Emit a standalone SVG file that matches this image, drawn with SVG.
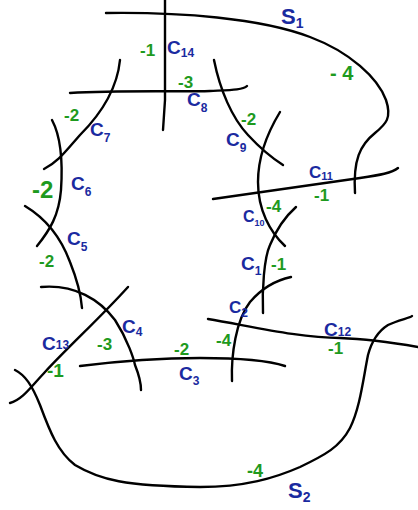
<svg xmlns="http://www.w3.org/2000/svg" width="418" height="510" viewBox="0 0 418 510">
<style>
.c{fill:none;stroke:#000;stroke-width:2.4;stroke-linecap:round;stroke-linejoin:round}
.b{fill:#1a2aa0;font-family:"Liberation Sans",sans-serif;font-size:19px;font-weight:bold}
.g{fill:#1e9a1e;font-family:"Liberation Sans",sans-serif;font-size:17px;font-weight:bold}
.s{font-size:12px}
</style>
<rect width="418" height="510" fill="#fff"/>
<g id="curves">
<path id="S1" class="c" d="M106,13 C180,12 260,18 310,37 C350,52 378,78 386,100 C392,118 386,124 375,133 C360,145 353,160 355,193"/>
<path id="C14" class="c" d="M165,0 L165,100 L163,130"/>
<path id="C8" class="c" d="M70,93 C120,90 180,92 210,91 C230,90 243,90 247,86"/>
<path id="C7" class="c" d="M120,60 C117,90 100,115 80,135 C65,152 58,162 44,169"/>
<path id="C6" class="c" d="M52,120 C60,135 63,160 61,190 C59,215 50,230 37,246"/>
<path id="C5" class="c" d="M25,206 C45,218 60,235 70,262 C78,282 81,295 82,308"/>
<path id="C4" class="c" d="M41,287 C75,284 100,300 115,320 C128,340 134,360 135,365 C139,375 141,385 141,390"/>
<path id="C13" class="c" d="M128,287 C100,318 70,345 45,372 C30,388 22,400 10,403"/>
<path id="S2" class="c" d="M15,370 C25,375 32,385 40,405 C50,432 58,452 75,465 C100,480 125,486 200,487 C245,487 275,478 300,467 C325,455 340,447 350,428 C360,408 363,380 368,355 C372,340 380,330 388,325 C398,320 410,318 412,316"/>
<path id="C3" class="c" d="M80,366 C120,361 160,358 200,358 C240,358 270,361 285,366"/>
<path id="C2" class="c" d="M232,381 C231,355 236,320 250,302 C262,288 277,280 291,277"/>
<path id="C12" class="c" d="M208,319 C250,326 300,338 340,338 C370,339 395,343 418,347"/>
<path id="C1" class="c" d="M263,313 C262,290 264,258 270,245 C277,228 287,215 296,207"/>
<path id="C10" class="c" d="M280,112 C266,135 258,160 258,182 C258,210 270,232 285,246"/>
<path id="C9" class="c" d="M214,60 C220,90 232,118 248,135 C260,148 272,158 283,165"/>
<path id="C11" class="c" d="M213,199 C260,192 320,184 360,178 C380,175 392,173 398,168"/>
</g>
<g id="labels">
<text class="b" x="281" y="24" style="font-size:22px">S<tspan class="s" style="font-size:14px" dy="4">1</tspan></text>
<text class="g" x="330" y="80" style="font-size:20px">- 4</text>
<text class="g" x="140" y="56">-1</text>
<text class="b" x="167" y="54">C<tspan class="s" dy="3">14</tspan></text>
<text class="g" x="178" y="88">-3</text>
<text class="b" x="187" y="106">C<tspan class="s" dy="6">8</tspan></text>
<text class="g" x="64" y="121">-2</text>
<text class="b" x="90" y="136">C<tspan class="s" dy="6">7</tspan></text>
<text class="g" x="32" y="198" style="font-size:24px">-2</text>
<text class="b" x="71" y="190">C<tspan class="s" dy="6">6</tspan></text>
<text class="b" x="67" y="245">C<tspan class="s" dy="6">5</tspan></text>
<text class="g" x="39" y="267">-2</text>
<text class="g" x="241" y="125">-2</text>
<text class="b" x="226" y="146">C<tspan class="s" dy="6">9</tspan></text>
<text class="b" x="309" y="178" style="font-size:17px">C<tspan class="s" style="font-size:11px" dy="2">11</tspan></text>
<text class="g" x="314" y="201">-1</text>
<text class="g" x="266" y="212">-4</text>
<text class="b" x="243" y="222" style="font-size:16px">C<tspan class="s" style="font-size:9px" dy="4">10</tspan></text>
<text class="b" x="241" y="270">C<tspan class="s" dy="5">1</tspan></text>
<text class="g" x="271" y="270">-1</text>
<text class="b" x="229" y="313" style="font-size:17px">C<tspan class="s" dy="4">2</tspan></text>
<text class="g" x="216" y="346">-4</text>
<text class="b" x="324" y="336">C<tspan class="s" dy="0">12</tspan></text>
<text class="g" x="328" y="354">-1</text>
<text class="b" x="42" y="350">C<tspan class="s" dy="-1">13</tspan></text>
<text class="g" x="47" y="377" style="font-size:19px">-1</text>
<text class="b" x="122" y="333">C<tspan class="s" dy="3">4</tspan></text>
<text class="g" x="97" y="350">-3</text>
<text class="g" x="174" y="355">-2</text>
<text class="b" x="179" y="380">C<tspan class="s" dy="5">3</tspan></text>
<text class="g" x="247" y="477" style="font-size:18px">-4</text>
<text class="b" x="288" y="498" style="font-size:22px">S<tspan class="s" style="font-size:14px" dy="4">2</tspan></text>
</g>
</svg>
